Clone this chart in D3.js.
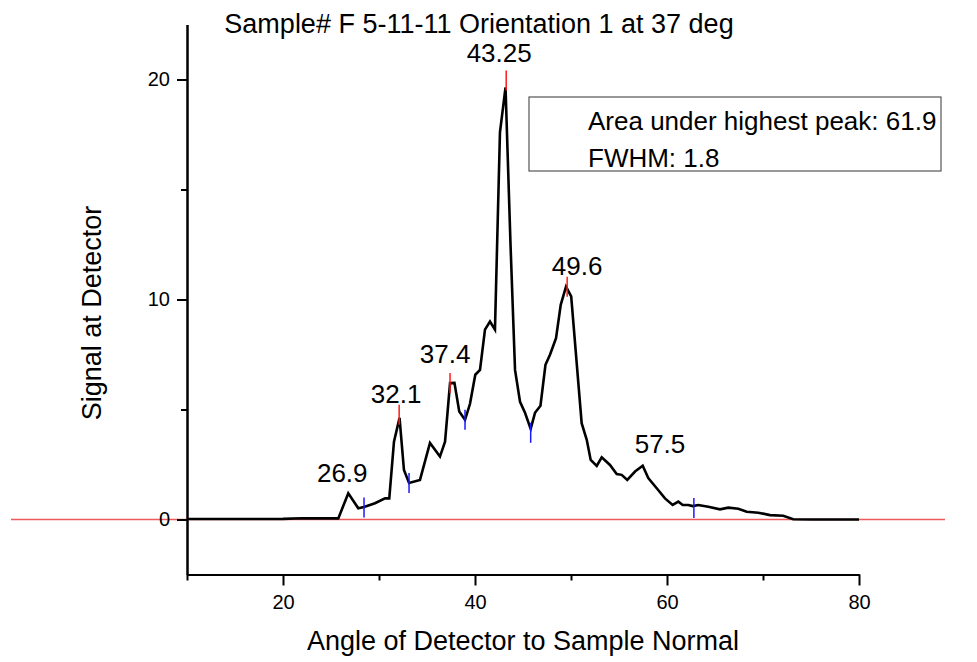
<!DOCTYPE html>
<html>
<head>
<meta charset="utf-8">
<script src="https://cdn.jsdelivr.net/npm/d3@7"></script>
<style>
  html, body { margin: 0; padding: 0; background: #fff; }
  svg { display: block; font-family: "Liberation Sans", Arial, sans-serif; }
</style>
</head>
<body>
<svg id="chart" width="977" height="662"></svg>
<script>
// ---------------- data ----------------
const titleText = "Sample# F 5-11-11 Orientation 1 at 37 deg";
const xLabel = "Angle of Detector to Sample Normal";
const yLabel = "Signal at Detector";
const legendLines = ["Area under highest peak: 61.9", "FWHM: 1.8"];

const angle = [10, 15, 20, 22, 25.76, 26.8, 27.84, 28.44, 29.58, 30.63, 31.07, 31.56, 32.14, 32.6, 33.13,
  34.27, 35.31, 36.35, 36.88, 37.4, 37.86, 38.36, 38.96, 39.48, 40.03, 40.52, 41.04, 41.56, 42.08,
  42.6, 43.18, 43.7, 44.17, 44.69, 45.21, 45.8, 46.25, 46.82, 47.34, 47.81, 48.44, 48.93, 49.48,
  50.02, 51.11, 51.64, 52.05, 52.68, 53.2, 54.06, 54.76, 55.28, 55.86, 56.67, 57.47, 58.05, 58.93,
  59.79, 60.59, 61.18, 61.64, 62.22, 62.68, 63.26, 64.3, 65.52, 66.39, 67.43, 68.3, 69.51, 70.73,
  72.11, 73.15, 75, 80];
const signal = [0.02, 0.02, 0.03, 0.06, 0.05, 1.19, 0.51, 0.57, 0.74, 0.96, 0.96, 3.54, 4.62, 2.25, 1.66,
  1.80, 3.48, 2.86, 3.54, 6.2, 6.21, 4.91, 4.53, 5.26, 6.58, 6.8, 8.63, 9.0, 8.63,
  17.6, 19.64, 12.5, 6.8, 5.35, 4.85, 4.12, 4.85, 5.17, 7.03, 7.49, 8.24, 9.76, 10.58,
  10.14, 4.38, 3.62, 2.71, 2.44, 2.83, 2.48, 2.07, 2.03, 1.80, 2.18, 2.44, 1.88, 1.42,
  0.96, 0.66, 0.81, 0.66, 0.66, 0.61, 0.66, 0.58, 0.46, 0.54, 0.49, 0.35, 0.31, 0.2,
  0.17, 0.01, 0.0, 0.0];

// peak annotations
const peakLabels = ["26.9", "32.1", "37.4", "43.25", "49.6", "57.5"];
const peakX      = [26.9, 32.1, 37.4, 43.25, 49.6, 57.5];
const peakY      = [1.19, 4.76, 6.21, 19.96, 10.58, 2.44];
const peakMarked = [false, true, true, true, true, false];

// valley markers
const valleyX = [28.44, 33.13, 38.96, 45.8, 62.8];
const valleyY = [0.55, 1.66, 4.53, 3.94, 0.52];

const xTicksMajor = [20, 40, 60, 80];
const xTicksMinor = [10, 30, 50, 70];
const yTicksMajor = [0, 10, 20];
const yTicksMinor = [5, 15];

// ---------------- layout ----------------
// label offsets (pixels) relative to the peak point: [dx of text centre, dy of baseline]
const labelOffsets = [[-7, -11], [-3, -12], [-5, -20], [-7, -18], [10, -12], [17, -13]];

const svg = d3.select("#chart");
const x = d3.scaleLinear().domain([10, 80]).range([187, 859]);
const y = d3.scaleLinear().domain([-2.5, 22.5]).range([574.5, 24.5]);
const font = "'Liberation Sans', Arial, sans-serif";

// zero reference line
svg.append("line")
  .attr("x1", 11).attr("x2", 945)
  .attr("y1", y(0)).attr("y2", y(0))
  .attr("stroke", "#ee5a5a").attr("stroke-width", 1.5);

// axes
function styleAxis(g) {
  g.selectAll("path").attr("stroke", "#000").attr("stroke-width", 2);
  g.selectAll("line").attr("stroke", "#000").attr("stroke-width", 2);
  g.selectAll("text").attr("font-family", font).attr("font-size", 20).attr("fill", "#000");
}
const gxMinor = svg.append("g").attr("transform", `translate(0,${y(-2.5)})`)
  .call(d3.axisBottom(x).tickValues(xTicksMinor).tickSize(6).tickSizeOuter(0).tickFormat(""));
styleAxis(gxMinor);
const gx = svg.append("g").attr("transform", `translate(0,${y(-2.5)})`)
  .call(d3.axisBottom(x).tickValues(xTicksMajor).tickSize(11).tickPadding(9).tickSizeOuter(0).tickFormat(d3.format("d")));
styleAxis(gx);

const gyMinor = svg.append("g").attr("transform", `translate(${x(10)},0)`)
  .call(d3.axisLeft(y).tickValues(yTicksMinor).tickSize(6).tickSizeOuter(0).tickFormat(""));
styleAxis(gyMinor);
const gy = svg.append("g").attr("transform", `translate(${x(10)},0)`)
  .call(d3.axisLeft(y).tickValues(yTicksMajor).tickSize(10).tickPadding(7).tickSizeOuter(0).tickFormat(d3.format("d")));
styleAxis(gy);

// data curve
const pts = angle.map((a, i) => [a, signal[i]]);
svg.append("path")
  .datum(pts)
  .attr("fill", "none")
  .attr("stroke", "#000")
  .attr("stroke-width", 2.6)
  .attr("stroke-linejoin", "miter")
  .attr("d", d3.line().x(d => x(d[0])).y(d => y(d[1])));

// valley markers (blue)
svg.append("g").selectAll("line").data(valleyX).join("line")
  .attr("x1", d => x(d)).attr("x2", d => x(d))
  .attr("y1", (d, i) => y(valleyY[i]) - 10).attr("y2", (d, i) => y(valleyY[i]) + 10)
  .attr("stroke", "#1a1aff").attr("stroke-width", 1.5);

// peak markers (red)
svg.append("g").selectAll("line").data(peakX.filter((d, i) => peakMarked[i])).join("line")
  .attr("x1", d => x(d)).attr("x2", d => x(d))
  .attr("y1", d => y(peakY[peakX.indexOf(d)]) - 10).attr("y2", d => y(peakY[peakX.indexOf(d)]) + 10)
  .attr("stroke", "#ff1a1a").attr("stroke-width", 1.5);

// peak labels
svg.append("g").selectAll("text").data(peakLabels).join("text")
  .attr("x", (d, i) => x(peakX[i]) + labelOffsets[i][0])
  .attr("y", (d, i) => y(peakY[i]) + labelOffsets[i][1])
  .attr("text-anchor", "middle")
  .attr("font-family", font).attr("font-size", 26).attr("fill", "#000")
  .text(d => d);

// title
svg.append("text")
  .attr("x", 479).attr("y", 33)
  .attr("text-anchor", "middle")
  .attr("font-family", font).attr("font-size", 27)
  .text(titleText);

// axis titles
svg.append("text")
  .attr("x", 523).attr("y", 650)
  .attr("text-anchor", "middle")
  .attr("font-family", font).attr("font-size", 27)
  .text(xLabel);
svg.append("text")
  .attr("transform", "translate(101,313) rotate(-90)")
  .attr("text-anchor", "middle")
  .attr("font-family", font).attr("font-size", 27)
  .text(yLabel);

// legend box
svg.append("rect")
  .attr("x", 529).attr("y", 97).attr("width", 412).attr("height", 74)
  .attr("fill", "#fff").attr("stroke", "#555").attr("stroke-width", 1.2);
svg.append("g").selectAll("text").data(legendLines).join("text")
  .attr("x", 588).attr("y", (d, i) => 130 + i * 37)
  .attr("font-family", font).attr("font-size", 26)
  .text(d => d);
</script>
</body>
</html>
